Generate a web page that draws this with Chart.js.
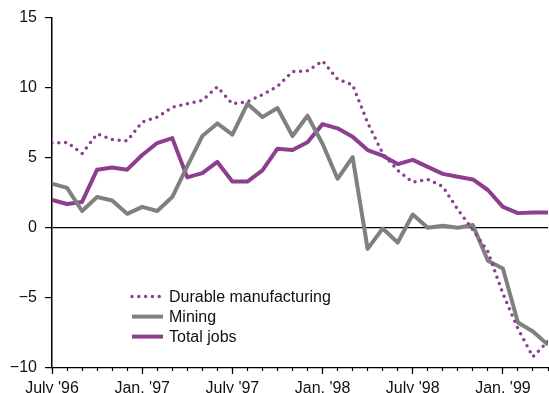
<!DOCTYPE html>
<html>
<head>
<meta charset="utf-8">
<script src="https://cdn.jsdelivr.net/npm/chart.js@4.4.1/dist/chart.umd.min.js"></script>
<style>
  html, body { margin: 0; padding: 0; background: #fff; }
  #wrap { position: relative; width: 549px; height: 393px; }
</style>
</head>
<body>
<div id="wrap"><canvas id="chart"></canvas></div>
<script>
// months run July 1996 .. April 1999 (index 0..33)
const tickLabels = ["July '96", "Jan. '97", "July '97", "Jan. '98", "July '98", "Jan. '99"];

const durable = [6.05, 6.1, 5.3, 6.7, 6.3, 6.2, 7.55, 7.9, 8.6, 8.85, 9.1, 10.05,
  8.85, 9.0, 9.5, 10.1, 11.15, 11.2, 11.9, 10.6, 10.2, 7.5, 5.3, 4.1,
  3.25, 3.45, 2.95, 1.3, -0.15, -1.7, -4.7, -7.2, -9.2, -8.1];

const mining = [3.15, 2.85, 1.2, 2.2, 1.95, 1.0, 1.5, 1.2, 2.2, 4.4, 6.55, 7.45,
  6.65, 8.85, 7.9, 8.55, 6.55, 8.0, 6.0, 3.5, 5.05, -1.5, -0.05, -1.05,
  0.95, 0.0, 0.15, 0.0, 0.2, -2.35, -2.9, -6.75, -7.4, -8.35];

const totalJobs = [2.0, 1.7, 1.85, 4.15, 4.3, 4.15, 5.2, 6.05, 6.4, 3.6, 3.9, 4.7,
  3.3, 3.3, 4.1, 5.65, 5.55, 6.1, 7.4, 7.1, 6.5, 5.55, 5.15, 4.55,
  4.85, 4.35, 3.85, 3.65, 3.45, 2.7, 1.5, 1.05, 1.1, 1.1];

const purple = '#8c3f8f';
const grey = '#808080';
const font = { family: '"Liberation Sans", Arial, sans-serif', size: 16 };

function pts(arr) {
  return arr.map((v, i) => ({ x: i, y: v }));
}

// legend drawn inside the plot, lower left
const insideLegend = {
  id: 'insideLegend',
  afterDatasetsDraw(chart) {
    const ctx = chart.ctx;
    const a = chart.chartArea;
    const x0 = a.left + 80;
    const y0 = a.top + 279;
    ctx.save();
    chart.data.datasets.forEach((ds, i) => {
      const y = y0 + i * 20;
      ctx.beginPath();
      ctx.strokeStyle = ds.borderColor;
      ctx.lineWidth = ds.borderWidth;
      ctx.lineCap = ds.borderCapStyle || 'butt';
      ctx.setLineDash(ds.borderDash || []);
      ctx.moveTo(x0, y);
      ctx.lineTo(x0 + 31, y);
      ctx.stroke();
      ctx.setLineDash([]);
      ctx.fillStyle = '#111';
      ctx.font = font.size + 'px ' + font.family;
      ctx.textBaseline = 'middle';
      ctx.fillText(ds.label, x0 + 37, y + 1);
    });
    ctx.restore();
  }
};

new Chart(document.getElementById('chart'), {
  type: 'line',
  data: {
    datasets: [
      {
        label: 'Durable manufacturing',
        data: pts(durable),
        borderColor: purple,
        borderWidth: 3.5,
        borderDash: [0, 6.8],
        borderCapStyle: 'round',
        pointRadius: 0,
        tension: 0
      },
      {
        label: 'Mining',
        data: pts(mining),
        borderColor: grey,
        borderWidth: 4,
        borderJoinStyle: 'round',
        pointRadius: 0,
        tension: 0
      },
      {
        label: 'Total jobs',
        data: pts(totalJobs),
        borderColor: purple,
        borderWidth: 4,
        borderJoinStyle: 'round',
        pointRadius: 0,
        tension: 0
      }
    ]
  },
  options: {
    responsive: true,
    maintainAspectRatio: false,
    animation: false,
    layout: { padding: { top: 17, right: 1, left: 0, bottom: 0 } },
    plugins: {
      legend: { display: false },
      tooltip: { enabled: false }
    },
    scales: {
      x: {
        type: 'linear',
        min: 0,
        max: 33,
        weight: 1,
        border: { display: true, color: '#000', width: 1.2 },
        grid: {
          drawOnChartArea: false,
          tickLength: 6,
          tickWidth: 1.2,
          tickColor: (c) => (c.tick && c.tick.value % 6 === 0 ? '#000' : 'rgba(0,0,0,0)')
        },
        ticks: {
          stepSize: 6,
          autoSkip: false,
          maxRotation: 0,
          includeBounds: false,
          padding: 5,
          color: '#111',
          font: font,
          callback: (v) => (v % 6 === 0 ? tickLabels[v / 6] : '')
        },
        afterFit: (s) => { s.height = 25; }
      },
      // short monthly tick marks
      x2: {
        type: 'linear',
        min: 0,
        max: 33,
        position: 'bottom',
        weight: 0,
        border: { display: false },
        grid: { drawOnChartArea: false, tickLength: 3, tickWidth: 1.2, tickColor: '#000' },
        ticks: { stepSize: 1, autoSkip: false, display: false },
        afterFit: (s) => { s.height = 0; }
      },
      y: {
        min: -10,
        max: 15,
        border: { display: true, color: '#000', width: 1.5 },
        grid: {
          color: (c) => (c.tick && c.tick.value === 0 ? '#000' : 'rgba(0,0,0,0)'),
          lineWidth: 1.2,
          tickColor: '#000',
          tickLength: 7
        },
        ticks: {
          stepSize: 5,
          padding: 8,
          color: '#111',
          font: font,
          callback: (v) => String(v).replace('-', '\u2212')
        },
        afterFit: (s) => { s.width = 52; }
      }
    }
  },
  plugins: [insideLegend]
});
</script>
</body>
</html>
